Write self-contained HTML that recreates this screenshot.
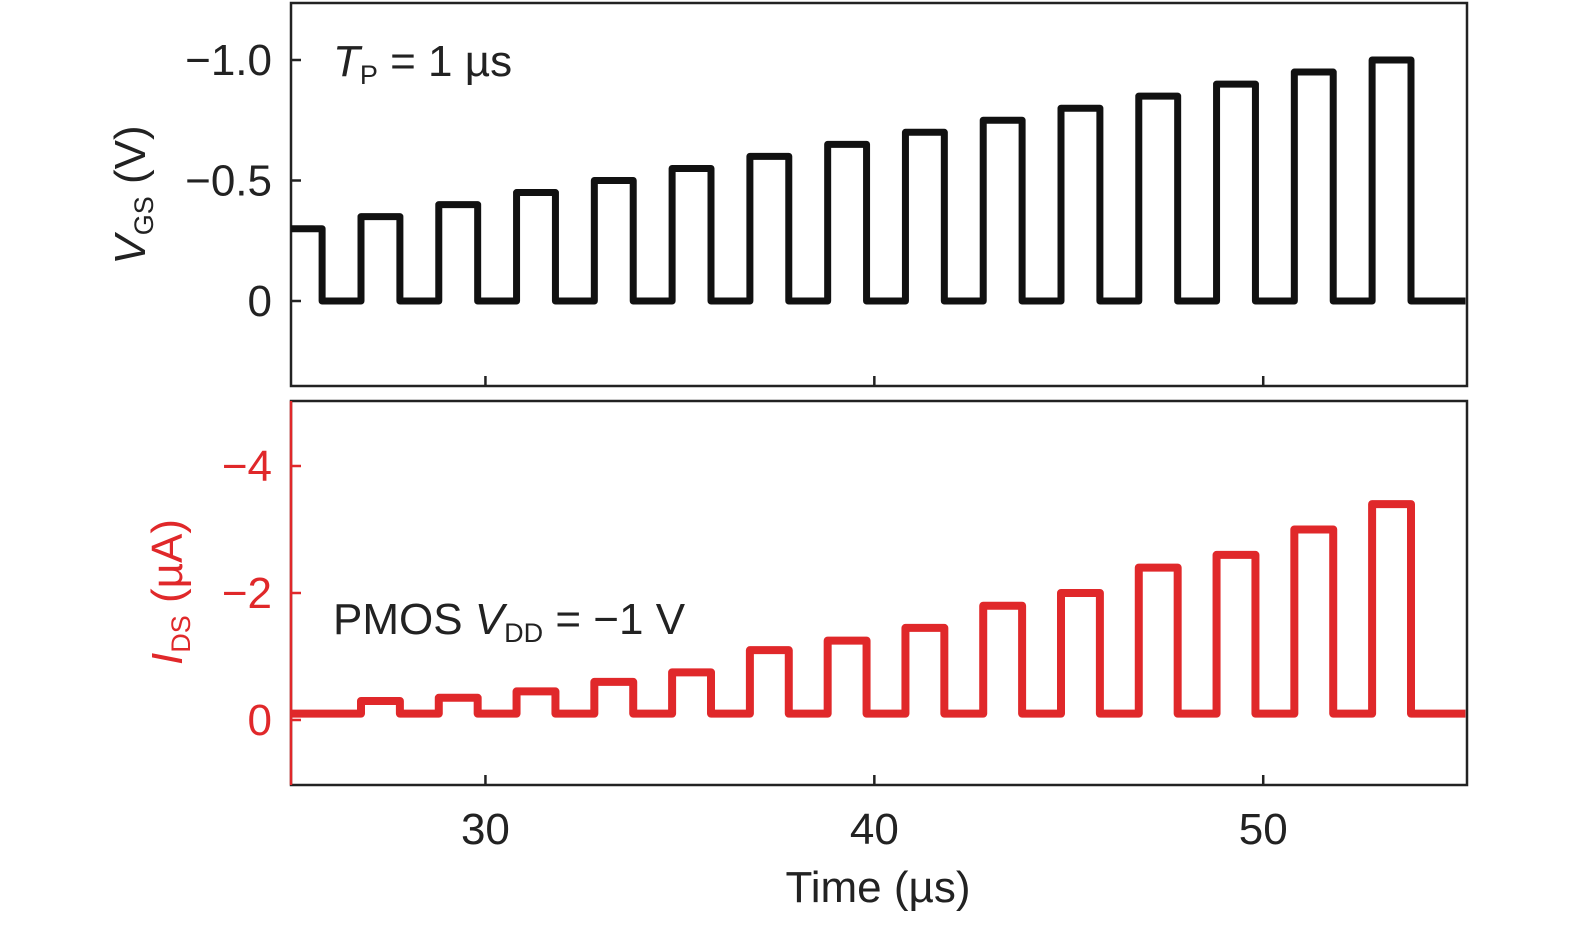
<!DOCTYPE html>
<html><head><meta charset="utf-8"><style>
body{margin:0;background:#fff;}
svg text{font-family:"Liberation Sans",sans-serif;}
</style></head><body>
<svg id="chart" width="1575" height="925" xmlns="http://www.w3.org/2000/svg" style="position:absolute;left:0;top:0">
<g id="gtop"></g>
<g id="gbot"></g>
</svg>
<script>
// Data
const pulseStarts = [26.8,28.8,30.8,32.8,34.8,36.8,38.8,40.8,42.8,44.8,46.8,48.8,50.8,52.8];
const pulseWidth = 1.0;
const vgsAmps = [-0.35,-0.40,-0.45,-0.50,-0.55,-0.60,-0.65,-0.70,-0.75,-0.80,-0.85,-0.90,-0.95,-1.00];
const vgsInitial = -0.30, vgsInitialEnd = 25.8, vgsBase = 0.0;
const idsAmps = [-0.3,-0.35,-0.45,-0.6,-0.75,-1.1,-1.25,-1.45,-1.8,-2.0,-2.4,-2.6,-3.0,-3.4];
const idsBase = -0.1;
const xTicks = [30,40,50];
const vgsTicks = [-1.0,-0.5,0];
const vgsTickLabels = ["\u22121.0","\u22120.5","0"];
const idsTicks = [-4,-2,0];
const idsTickLabels = ["\u22124","\u22122","0"];

const NS="http://www.w3.org/2000/svg";
const L=291,R=1467;
function x(t){return L+(t-25)/(55.24-25)*(R-L);}
function yVf(v){return 301+v*241;}
function yI(v){return 720+v*63.5;}
function mk(tag,attrs,parent,text){const e=document.createElementNS(NS,tag);for(const k in attrs)e.setAttribute(k,attrs[k]);if(text!==undefined)e.textContent=text;parent.appendChild(e);return e;}

function panel(g,t0,b0,color,ticks,labels,yf,leftColor){
  const f=mk('rect',{x:L,y:t0,width:R-L,height:b0-t0,fill:'none',stroke:'#222','stroke-width':2.5},g);
  
  
  if(leftColor){const l=mk('line',{x1:L,x2:L,y1:t0,y2:b0,stroke:leftColor,'stroke-width':2.5},g);
    
    }
  xTicks.forEach(t=>{const tk=mk('line',{x1:x(t),x2:x(t),y1:b0,y2:b0-10,stroke:'#222','stroke-width':2.5},g);
    
    });
  ticks.forEach((v,i)=>{
    const tk=mk('line',{x1:L,x2:L+10,y1:yf(v),y2:yf(v),stroke:leftColor||'#222','stroke-width':2.5},g);
    
    
    const tl=mk('text',{x:272,y:yf(v)+15,'text-anchor':'end','font-size':44,fill:color},g,labels[i]);
    
    
  });
}
function wave(base,amps,initV,initEnd,yf,end){
  let d=`M${x(25)},${yf(initV)}L${x(initEnd)},${yf(initV)}L${x(initEnd)},${yf(base)}`;
  pulseStarts.forEach((s,i)=>{const e=s+pulseWidth;
    d+=`L${x(s)},${yf(base)}L${x(s)},${yf(amps[i])}L${x(e)},${yf(amps[i])}L${x(e)},${yf(base)}`;});
  d+=`L${x(end)},${yf(base)}`;return d;
}
const gTop=document.getElementById('gtop'),gBot=document.getElementById('gbot');
panel(gTop,3,386,'#222',vgsTicks,vgsTickLabels,yVf,null);
panel(gBot,401,785,'#e0282a',idsTicks,idsTickLabels,yI,'#e0282a');
const p1=mk('path',{d:wave(vgsBase,vgsAmps,vgsInitial,vgsInitialEnd,yVf,55.2),fill:'none',stroke:'#111','stroke-width':7,'stroke-linejoin':'round'},gTop);


const p2=mk('path',{d:wave(idsBase,idsAmps,idsBase,vgsInitialEnd,yI,55.2),fill:'none',stroke:'#e0282a','stroke-width':8,'stroke-linejoin':'round'},gBot);


xTicks.forEach(t=>{const tl=mk('text',{x:x(t),y:844,'text-anchor':'middle','font-size':44,fill:'#222'},gBot,String(t));
  
  });
</script>
<svg style="position:absolute;left:0;top:0" width="1575" height="925">
<text x="878" y="902" text-anchor="middle" font-size="44" fill="#222">Time (µs)</text>
<text transform="translate(145,195) rotate(-90)" text-anchor="middle" font-size="44" fill="#222"><tspan font-style="italic">V</tspan><tspan font-size="27" dy="8">GS</tspan><tspan dy="-8"> (V)</tspan></text>
<text transform="translate(182,592) rotate(-90)" text-anchor="middle" font-size="44" fill="#e0282a"><tspan font-style="italic">I</tspan><tspan font-size="27" dy="8">DS</tspan><tspan dy="-8"> (µA)</tspan></text>
<text x="333" y="76" font-size="44" fill="#222"><tspan font-style="italic">T</tspan><tspan font-size="27" dy="8">P</tspan><tspan dy="-8"> = 1 µs</tspan></text>
<text x="333" y="634" font-size="44" fill="#222">PMOS <tspan font-style="italic">V</tspan><tspan font-size="27" dy="8">DD</tspan><tspan dy="-8"> = −1 V</tspan></text>
</svg>
</body></html>
